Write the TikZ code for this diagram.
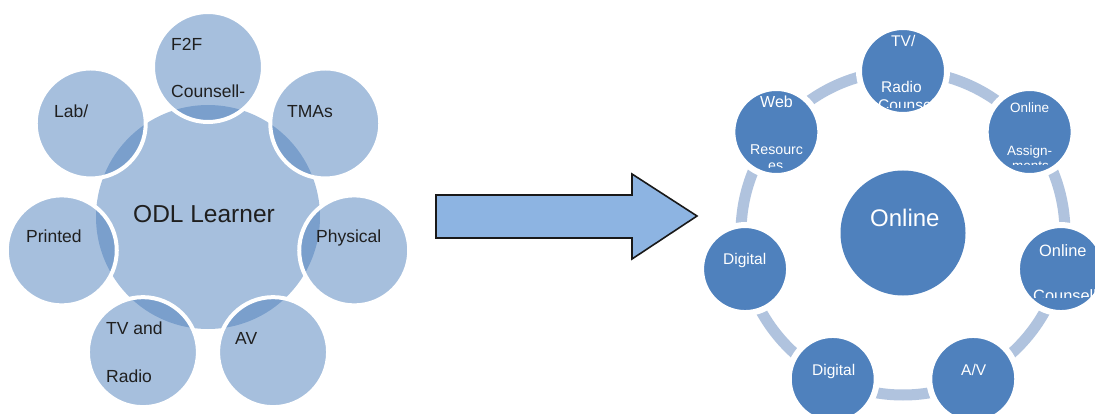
\documentclass[tikz,border=0pt]{standalone}
\usepackage{fontspec}
\setmainfont{Liberation Sans}
\usetikzlibrary{calc,positioning}
\definecolor{smartblue}{RGB}{79,129,189}
\definecolor{ringblue}{RGB}{176,195,222}
\definecolor{arrowblue}{RGB}{141,180,226}
\tikzstyle{hubL}=[circle,fill=smartblue,fill opacity=.5,inner sep=0pt,minimum size=224pt]
\tikzstyle{spokeL}=[circle,fill=smartblue,fill opacity=.5,draw=white,draw opacity=1,line width=4pt,inner sep=0pt,minimum size=110pt]
\tikzstyle{hubR}=[circle,fill=smartblue,inner sep=0pt,minimum size=125pt]
\tikzstyle{spokeR}=[circle,fill=smartblue,draw=white,line width=6pt,inner sep=0pt,minimum size=88pt]
\tikzstyle{ring}=[draw=ringblue,line width=11pt]
\tikzstyle{bigarrow}=[fill=arrowblue,draw=black!90,line width=1.6pt,line join=miter]
\tikzstyle{lblL}=[anchor=base west,inner sep=0pt,text=black!88,font=\fontsize{17.5}{20}\selectfont]
\tikzstyle{lblR}=[anchor=base west,inner sep=0pt,text=white,font=\fontsize{15.5}{18}\selectfont]

\begin{document}
\begin{tikzpicture}[x=1pt,y=-1pt]
	\useasboundingbox (0,0) rectangle (1095,414);
	\clip (0,0) rectangle (1095,414);
	\fill[white] (0,0) rectangle (1095,414);

	% before
	\node[hubL] (odl) at (208,217) {};
	\node[spokeL] (f2f) at ($(odl)+(90:150pt)$) {};
	\node[spokeL] (tma) at ($(odl)+(38.57:150pt)$) {};
	\node[spokeL] (phys) at ($(odl)+(-12.86:150pt)$) {};
	\node[spokeL] (av) at ($(odl)+(-64.29:150pt)$) {};
	\node[spokeL] (tvr) at ($(odl)+(-115.71:150pt)$) {};
	\node[spokeL] (prn) at ($(odl)+(-167.14:150pt)$) {};
	\node[spokeL] (lab) at ($(odl)+(141.43:150pt)$) {};
	\node[lblL,font=\fontsize{24.5}{28}\selectfont] (odl-t) at (133,223) {ODL Learner};
	\node[lblL] (f2f-t1) at (171,51) {F2F};
	\node[lblL] (f2f-t2) at (171,98) {Counsell-};
	\node[lblL] (tma-t) at (287,118) {TMAs};
	\node[lblL] (phys-t) at (316,243) {Physical};
	\node[lblL] (av-t) at (235,344) {AV};
	\node[lblL] (tvr-t1) at (106,334) {TV and};
	\node[lblL] (tvr-t2) at (106,382) {Radio};
	\node[lblL] (prn-t) at (26,243) {Printed};
	\node[lblL] (lab-t) at (54,118) {Lab/};

	\draw[bigarrow] (436,195) -- (632,195) -- (632,174) -- (697,216) -- (632,259) -- (632,238) -- (436,238) -- cycle;

	% after
	\coordinate (mid) at (903,233);
	\draw[ring] (mid) circle (162pt);
	\node[hubR] (online) at (mid) {};
	\node[spokeR] (tvrc) at ($(mid)+(90:162pt)$) {};
	\node[spokeR] (oasg) at ($(mid)+(38.57:162pt)$) {};
	\node[spokeR] (ocns) at ($(mid)+(-12.86:162pt)$) {};
	\node[spokeR] (avr) at ($(mid)+(-64.29:162pt)$) {};
	\node[spokeR] (dig2) at ($(mid)+(-115.71:162pt)$) {};
	\node[spokeR] (dig1) at ($(mid)+(-167.14:162pt)$) {};
	\node[spokeR] (web) at ($(mid)+(141.43:162pt)$) {};
	\node[lblR,font=\fontsize{24}{28}\selectfont] (online-t) at (870,227) {Online};
	\node[lblR] (tvrc-t1) at (891,47) {TV/};
	\node[lblR] (tvrc-t2) at (881,93) {Radio};
	\begin{scope}
		\clip (850,60) rectangle (960,108);
		\node[lblR] (tvrc-t3) at (878,111) {Counsell};
	\end{scope}
	\node[lblR,font=\fontsize{13.5}{16}\selectfont] (oasg-t1) at (1010,113) {Online};
	\node[lblR,font=\fontsize{13.5}{16}\selectfont] (oasg-t2) at (1007,156) {Assign-};
	\begin{scope}
		\clip (990,100) rectangle (1080,165);
		\node[lblR,font=\fontsize{13.5}{16}\selectfont] (oasg-t3) at (1012,171) {ments};
	\end{scope}
	\node[lblR,font=\fontsize{16.4}{19}\selectfont] (ocns-t1) at (1039,256) {Online};
	\begin{scope}
		\clip (1010,240) rectangle (1095,297);
		\node[lblR,font=\fontsize{16.4}{19}\selectfont] (ocns-t2) at (1033,301) {Counsell};
	\end{scope}
	\node[lblR] (avr-t) at (961,375) {A/V};
	\node[lblR] (dig2-t) at (812,375) {Digital};
	\node[lblR] (dig1-t) at (723,264) {Digital};
	\node[lblR,font=\fontsize{16}{19}\selectfont] (web-t1) at (760,108) {Web};
	\node[lblR,font=\fontsize{14.2}{17}\selectfont] (web-t2) at (750,155) {Resourc};
	\begin{scope}
		\clip (735,100) rectangle (820,168);
		\node[lblR,font=\fontsize{14.2}{17}\selectfont] (web-t3) at (768,171) {es};
	\end{scope}
\end{tikzpicture}
\end{document}
